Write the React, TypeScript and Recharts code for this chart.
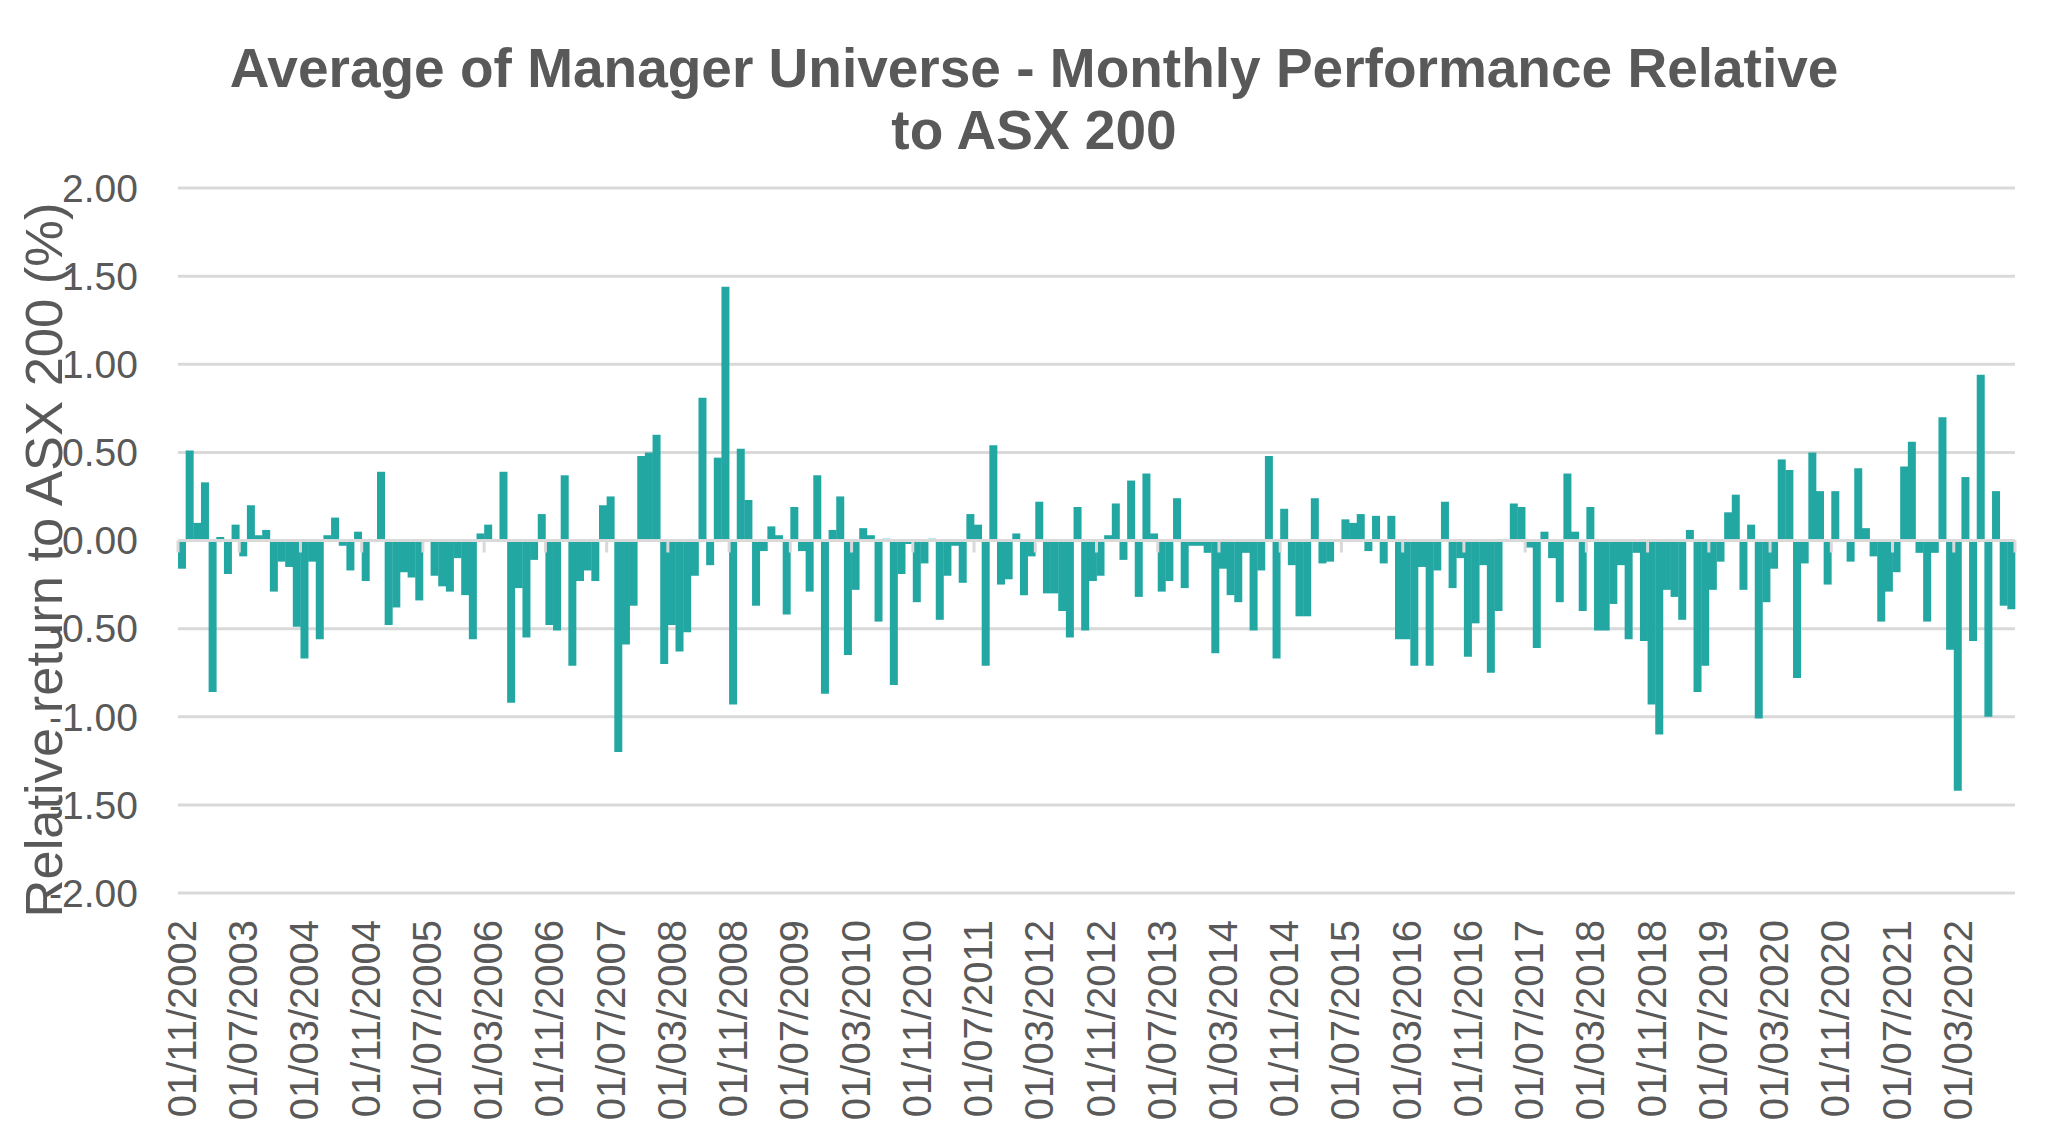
import React from "react";
import { BarChart, Bar, XAxis, YAxis, CartesianGrid, ReferenceLine } from "recharts";

const FONT = "'Liberation Sans', Arial, sans-serif";
const TEXT = "#595959";
const GRID = "#D9D9D9";
const BAR = "#22A7A3";

// first month of the series and how often the axis gets a date label
const START_YEAR = 2002;
const START_MONTH = 11;
const LABEL_EVERY = 8;

// monthly relative return (%), four years per block, starting Nov 2002
const returns2002to2006 = [
  -0.16, 0.51, 0.1, 0.33, -0.86, 0.02, -0.19, 0.09, -0.09, 0.2, 0.03, 0.06,
  -0.29, -0.12, -0.15, -0.49, -0.67, -0.12, -0.56, 0.03, 0.13, -0.03, -0.17, 0.05,
  -0.23, 0.0, 0.39, -0.48, -0.38, -0.18, -0.21, -0.34, 0.0, -0.2, -0.26, -0.29,
  -0.1, -0.31, -0.56, 0.04, 0.09, 0.0, 0.39, -0.92, -0.27, -0.55, -0.11, 0.15,
];
const returns2006to2010 = [
  -0.48, -0.51, 0.37, -0.71, -0.23, -0.17, -0.23, 0.2, 0.25, -1.2, -0.59, -0.37,
  0.48, 0.5, 0.6, -0.7, -0.48, -0.63, -0.52, -0.2, 0.81, -0.14, 0.47, 1.44,
  -0.93, 0.52, 0.23, -0.37, -0.06, 0.08, 0.03, -0.42, 0.19, -0.06, -0.29, 0.37,
  -0.87, 0.06, 0.25, -0.65, -0.28, 0.07, 0.03, -0.46, 0.01, -0.82, -0.19, -0.02,
];
const returns2010to2014 = [
  -0.35, -0.13, 0.01, -0.45, -0.2, -0.03, -0.24, 0.15, 0.09, -0.71, 0.54, -0.25,
  -0.22, 0.04, -0.31, -0.09, 0.22, -0.3, -0.3, -0.4, -0.55, 0.19, -0.51, -0.23,
  -0.2, 0.03, 0.21, -0.11, 0.34, -0.32, 0.38, 0.04, -0.29, -0.23, 0.24, -0.27,
  -0.03, -0.03, -0.07, -0.64, -0.16, -0.31, -0.35, -0.07, -0.51, -0.17, 0.48, -0.67,
];
const returns2014to2018 = [
  0.18, -0.14, -0.43, -0.43, 0.24, -0.13, -0.12, 0.0, 0.12, 0.1, 0.15, -0.06,
  0.14, -0.13, 0.14, -0.56, -0.56, -0.71, -0.15, -0.71, -0.17, 0.22, -0.27, -0.1,
  -0.66, -0.47, -0.14, -0.75, -0.4, 0.0, 0.21, 0.19, -0.04, -0.61, 0.05, -0.1,
  -0.35, 0.38, 0.05, -0.4, 0.19, -0.51, -0.51, -0.36, -0.14, -0.56, -0.07, -0.57,
];
const returns2018to2022 = [
  -0.93, -1.1, -0.28, -0.32, -0.45, 0.06, -0.86, -0.71, -0.28, -0.12, 0.16, 0.26,
  -0.28, 0.09, -1.01, -0.35, -0.16, 0.46, 0.4, -0.78, -0.13, 0.5, 0.28, -0.25,
  0.28, 0.0, -0.12, 0.41, 0.07, -0.09, -0.46, -0.29, -0.18, 0.42, 0.56, -0.07,
  -0.46, -0.07, 0.7, -0.62, -1.42, 0.36, -0.57, 0.94, -1.0, 0.28, -0.37, -0.39,
];

const yTicks = [-2, -1.5, -1, -0.5, 0, 0.5, 1, 1.5, 2];

const titleLines = [
  "Average of Manager Universe - Monthly Performance Relative",
  "to ASX 200",
];
const yTitle = "Relative return to ASX 200 (%)";

const returns = [
  ...returns2002to2006,
  ...returns2006to2010,
  ...returns2010to2014,
  ...returns2014to2018,
  ...returns2018to2022,
];

const monthLabel = (i: number) => {
  const m0 = START_MONTH - 1 + i;
  const year = START_YEAR + Math.floor(m0 / 12);
  const month = (m0 % 12) + 1;
  return `01/${String(month).padStart(2, "0")}/${year}`;
};

const data = returns.map((value, i) => ({ date: monthLabel(i), value }));

const DateTick = ({ x, y, payload }: any) => (
  <text
    x={x}
    y={y}
    dy="0.355em"
    transform={`rotate(-90, ${x}, ${y})`}
    textAnchor="end"
    fontSize={40}
    fontFamily={FONT}
    fill={TEXT}
  >
    {payload.value}
  </text>
);

// zero line with the small category ticks Excel draws below it
const ZeroAxis = ({ x1, x2, y1 }: any) => {
  const step = ((x2 - x1) / data.length) * LABEL_EVERY;
  const marks: number[] = [];
  for (let k = 0; k * LABEL_EVERY <= data.length; k++) marks.push(x1 + k * step);
  return (
    <g>
      <line x1={x1} x2={x2} y1={y1} y2={y1} stroke={GRID} strokeWidth={3} />
      {marks.map((mx, i) => (
        <line key={i} x1={mx} x2={mx} y1={y1} y2={y1 + 12} stroke={GRID} strokeWidth={3} />
      ))}
    </g>
  );
};

export default function App() {
  return (
    <div
      style={{
        position: "absolute",
        left: 0,
        top: 0,
        width: 2068,
        height: 1131,
        background: "#fff",
        fontFamily: FONT,
      }}
    >
      <div
        style={{
          position: "absolute",
          left: 0,
          top: 37,
          width: 2068,
          textAlign: "center",
          fontSize: 55,
          lineHeight: "62px",
          fontWeight: "bold",
          color: TEXT,
        }}
      >
        {titleLines.map((t) => (
          <div key={t}>{t}</div>
        ))}
      </div>

      <BarChart
        width={2068}
        height={1131}
        data={data}
        margin={{ top: 188, right: 53, bottom: 38, left: 0 }}
        barCategoryGap={0}
        barGap={0}
      >
        <CartesianGrid vertical={false} stroke={GRID} strokeWidth={3} />
        <XAxis
          dataKey="date"
          interval={LABEL_EVERY - 1}
          height={200}
          axisLine={false}
          tickLine={false}
          tickSize={0}
          tickMargin={27}
          tick={<DateTick />}
        />
        <YAxis
          domain={[-2, 2]}
          ticks={yTicks}
          width={178}
          axisLine={false}
          tickLine={false}
          tickSize={0}
          tickMargin={40}
          tickFormatter={(v: number) => v.toFixed(2)}
          tick={{ fontSize: 39, fill: TEXT, fontFamily: FONT }}
        />
        <Bar dataKey="value" fill={BAR} isAnimationActive={false} />
        <ReferenceLine y={0} shape={(p: any) => <ZeroAxis {...p} />} />
      </BarChart>

      <svg
        width={120}
        height={1131}
        style={{ position: "absolute", left: 0, top: 0, pointerEvents: "none" }}
      >
        <text
          x={62}
          y={560}
          transform="rotate(-90, 62, 560)"
          textAnchor="middle"
          fontSize={52.5}
          fontFamily={FONT}
          fill={TEXT}
        >
          {yTitle}
        </text>
      </svg>
    </div>
  );
}
